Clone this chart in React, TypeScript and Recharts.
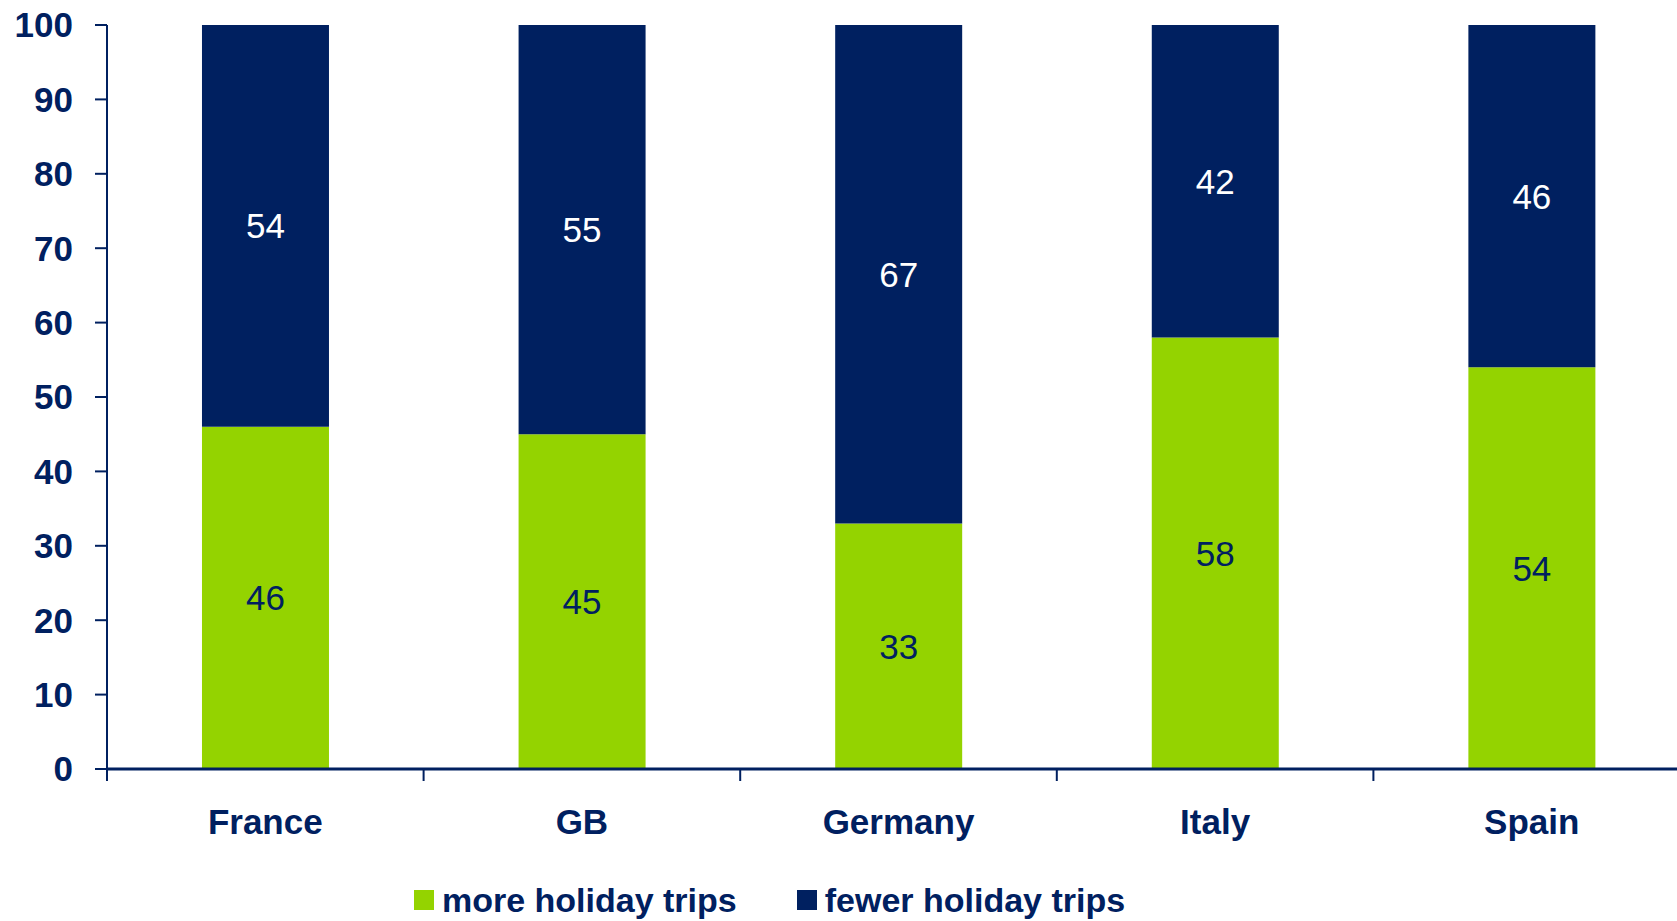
import React from 'react';
import { BarChart, Bar, XAxis, YAxis, LabelList, Legend } from 'recharts';

const categories = ['France', 'GB', 'Germany', 'Italy', 'Spain'];
const moreTrips = [46, 45, 33, 58, 54];
const fewerTrips = [54, 55, 67, 42, 46];
const yTicks = [0, 10, 20, 30, 40, 50, 60, 70, 80, 90, 100];
const seriesNames = ['more holiday trips', 'fewer holiday trips'];

const data = categories.map((c, i) => ({ category: c, more: moreTrips[i], fewer: fewerTrips[i] }));

const NAVY = '#002060';
const GREEN = '#94D300';
const FONT = '"Liberation Sans", Arial, Helvetica, sans-serif';

function CategoryTick(props: any) {
  const { x, y, payload } = props;
  const half = payload && typeof payload.offset === 'number' ? payload.offset : 0;
  return (
    <g>
      <line x1={x - half} x2={x - half} y1={y} y2={y + 12} stroke={NAVY} strokeWidth={2} />
      <text
        x={x}
        y={y + 65}
        textAnchor="middle"
        fill={NAVY}
        fontFamily={FONT}
        fontSize={35}
        fontWeight="bold"
      >
        {payload.value}
      </text>
    </g>
  );
}

const renderLegend = (props: any) => {
  const payload = [...(props.payload || [])].sort(
    (a: any, b: any) => seriesNames.indexOf(a.value) - seriesNames.indexOf(b.value)
  );
  return (
    <div
      style={{
        display: 'flex',
        alignItems: 'center',
        fontFamily: FONT,
        fontSize: 34,
        fontWeight: 'bold',
        color: NAVY,
        whiteSpace: 'nowrap',
        lineHeight: '40px',
        height: 40,
      }}
    >
      {payload.map((p: any, i: number) => (
        <div key={i} style={{ display: 'flex', alignItems: 'center', marginRight: i === 0 ? 60 : 0 }}>
          <span style={{ display: 'inline-block', width: 20, height: 20, background: p.color, marginRight: 8 }} />
          <span>{p.value}</span>
        </div>
      ))}
    </div>
  );
};

export default function App() {
  return (
    <div
      style={{
        position: 'absolute',
        left: 0,
        top: 0,
        width: 1677,
        height: 921,
        overflow: 'hidden',
        background: '#ffffff',
      }}
    >
      <BarChart
        width={1690}
        height={921}
        data={data}
        margin={{ top: 25, right: 0, left: 0, bottom: 92 }}
        barCategoryGap="30%"
      >
        <XAxis
          dataKey="category"
          height={60}
          tickSize={0}
          tickMargin={0}
          tickLine={false}
          axisLine={{ stroke: NAVY, strokeWidth: 3 }}
          tick={<CategoryTick />}
          interval={0}
        />
        <YAxis
          width={107}
          domain={[0, 100]}
          ticks={yTicks}
          interval={0}
          tickSize={12}
          tickMargin={22}
          axisLine={{ stroke: NAVY, strokeWidth: 2 }}
          tickLine={{ stroke: NAVY, strokeWidth: 2 }}
          tick={{ fill: NAVY, fontSize: 35, fontWeight: 'bold', fontFamily: FONT }}
        />
        <Legend
          layout="horizontal"
          verticalAlign="middle"
          content={renderLegend}
          wrapperStyle={{ left: 414, top: 880, bottom: 'auto', width: 'auto', height: 40 }}
        />
        <Bar dataKey="more" name={seriesNames[0]} stackId="a" fill={GREEN} isAnimationActive={false}>
          <LabelList dataKey="more" position="center" fill={NAVY} fontSize={35} fontFamily={FONT} />
        </Bar>
        <Bar dataKey="fewer" name={seriesNames[1]} stackId="a" fill={NAVY} isAnimationActive={false}>
          <LabelList dataKey="fewer" position="center" fill="#ffffff" fontSize={35} fontFamily={FONT} />
        </Bar>
      </BarChart>
    </div>
  );
}
